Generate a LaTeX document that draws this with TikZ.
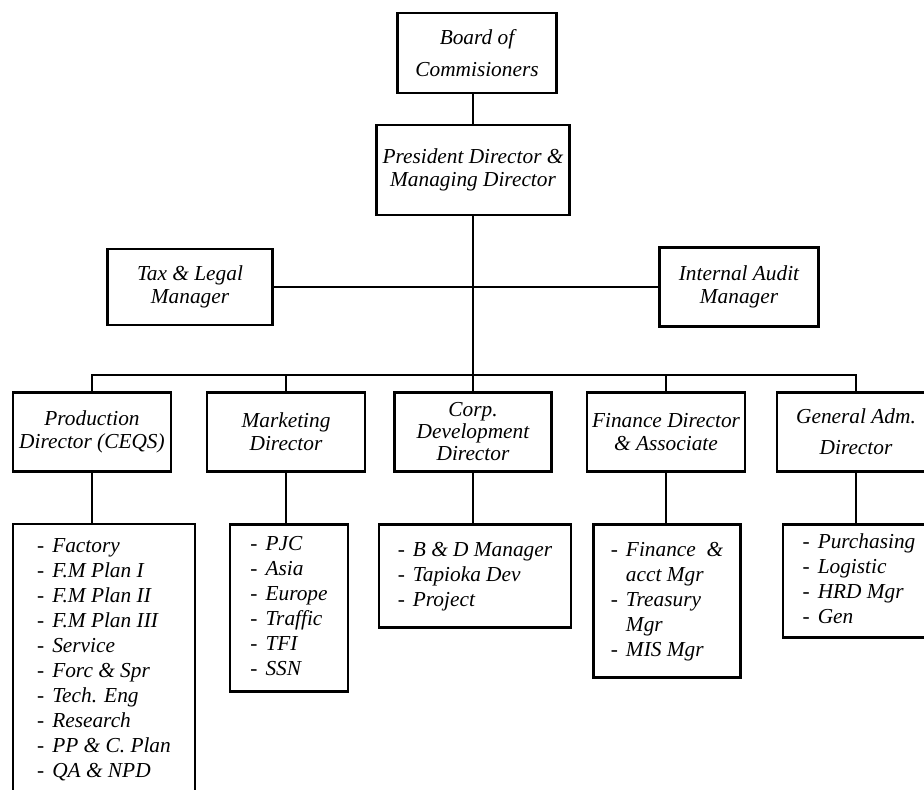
\documentclass[tikz,border=0pt]{standalone}
\usepackage{fontspec}
\setmainfont{Liberation Serif}

\tikzset{
	post/.style={draw, line width=1.7pt, align=center, inner sep=0pt,
		font=\itshape\fontsize{16}{17.5}\selectfont},
	jobs/.style={post, font=\itshape\fontsize{16}{18.75}\selectfont},
	link/.style={line width=1.1pt}
}
\newcommand{\joblist}[1]{\begin{tabular}{@{}l@{\hspace{6pt}}l@{}}#1\end{tabular}}

\begin{document}
\begin{tikzpicture}[x=.75pt, y=-.75pt]
		\def\px{.75pt}
		\fill[white] (0,0) rectangle (924,789);
		\useasboundingbox (0,0) rectangle (924,789);
		% top of the chart
		\node[post, minimum width=159*\px, minimum height=80*\px] (board) at (477,53) {Board of\\[6pt]Commisioners};
		\node[post, minimum width=193*\px, minimum height=90*\px] (pres) at (473,170) {President Director \&\\Managing Director};
		\node[post, minimum width=165*\px, minimum height=76*\px] (tax) at (190,287) {Tax \& Legal\\Manager};
		\node[post, minimum width=159*\px, minimum height=79*\px] (audit) at (739,287) {Internal Audit\\Manager};
		% directors
		\node[post, minimum width=158*\px, minimum height=79*\px] (prod) at (92,432) {Production\\Director (CEQS)};
		\node[post, minimum width=158*\px, minimum height=79*\px] (mkt) at (286,432) {Marketing\\Director};
		\node[post, minimum width=157*\px, minimum height=79*\px] (corp) at (473,432) {Corp.\\[-1pt]Development\\[-1pt]Director};
		\node[post, minimum width=158*\px, minimum height=79*\px] (fin) at (666,432) {Finance Director\\\& Associate};
		\node[post, minimum width=158*\px, minimum height=79*\px] (gen) at (856,432) {General Adm.\\[6pt]Director};
		% what each director looks after
		\node[jobs, minimum width=182*\px, minimum height=272*\px] (prodjobs) at (104,660) {\joblist{
				- & Factory\\ - & F.M Plan I\\ - & F.M Plan II\\ - & F.M Plan III\\ - & Service\\
				- & Forc \& Spr\\ - & Tech. Eng\\ - & Research\\ - & PP \& C. Plan\\ - & QA \& NPD}};
		\node[jobs, minimum width=118*\px, minimum height=167*\px] (mktjobs) at (289,608) {\joblist{
				- & PJC\\ - & Asia\\ - & Europe\\ - & Traffic\\ - & TFI\\ - & SSN}};
		\node[jobs, minimum width=192*\px, minimum height=103*\px] (corpjobs) at (475,576) {\joblist{
				- & B \& D Manager\\ - & Tapioka Dev\\ - & Project}};
		\node[jobs, minimum width=147*\px, minimum height=153*\px] (finjobs) at (667,601) {\joblist{
				- & Finance \ \&\\ & acct Mgr\\ - & Treasury\\ & Mgr\\ - & MIS Mgr}};
		\node[jobs, minimum width=152*\px, minimum height=113*\px] (genjobs) at (859,581) {\joblist{
				- & Purchasing\\ - & Logistic\\ - & HRD Mgr\\ - & Gen}};
		% lines
		\coordinate (bus) at (473,375);
		\draw[link] (pres.north) -- (pres.north |- board.south);
		\draw[link] (pres) -- (corp);
		\draw[link] (tax) -- (audit);
		\draw[link] (prod.north) |- (bus) -| (gen.north);
		\draw[link] (mkt.north) -- (mkt.north |- bus);
		\draw[link] (fin.north) -- (fin.north |- bus);
		\foreach \d/\j in {prod/prodjobs,mkt/mktjobs,corp/corpjobs,fin/finjobs,gen/genjobs}
		{
			\draw[link] (\d.south) -- (\d.south |- \j.north);
		}
	\end{tikzpicture}
\end{document}
